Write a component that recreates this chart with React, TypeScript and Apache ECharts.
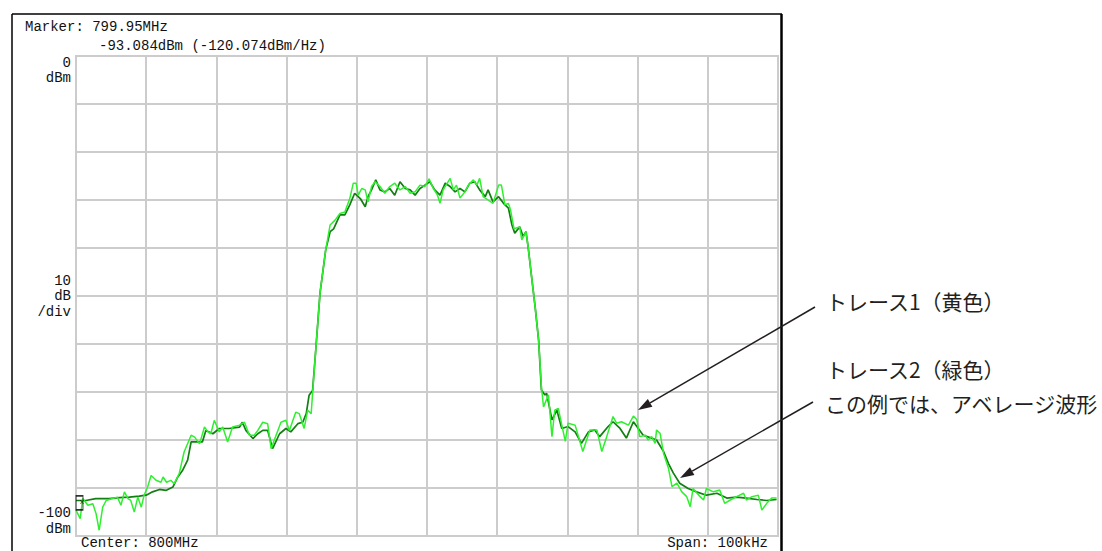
import React, { useEffect, useRef } from "react";
import * as echarts from "echarts";

// Frequency offsets from center (kHz) and levels (dBm)
const trace1Freq = [-50.0,-49.4,-49.05,-48.3,-47.6,-47.15,-46.7,-46.2,-45.7,-44.8,-44.1,-43.6,-43.1,-42.6,-42.2,-41.7,-41.2,-40.7,-40.3,-39.8,-39.3,-38.6,-37.9,-37.6,-37.1,-36.5,-36.0,-35.3,-34.6,-33.6,-33.1,-32.4,-31.7,-31.2,-30.8,-30.3,-29.6,-29.1,-28.4,-27.7,-26.7,-26.0,-25.3,-24.6,-24.1,-23.4,-22.7,-22.2,-21.5,-20.8,-20.1,-19.6,-18.7,-18.2,-17.5,-17.0,-16.5,-16.3,-15.85,-15.24,-14.43,-13.8,-13.1,-12.4,-11.7,-11.0,-10.5,-10.1,-9.8,-9.3,-8.8,-8.4,-7.9,-7.4,-6.7,-6.0,-5.3,-4.6,-3.85,-3.1,-2.4,-1.7,-1.0,-0.3,0.3,0.9,1.5,1.85,2.3,3.3,3.75,4.2,4.7,5.4,5.9,6.6,7.1,7.5,8.0,8.7,9.4,10.2,10.6,11.1,11.6,11.9,12.4,13.2,13.5,14.1,14.4,14.9,15.4,15.9,16.3,16.6,17.3,17.8,18.2,18.7,19.7,20.1,21.1,22.2,23.2,24.2,24.9,25.6,26.5,27.0,27.7,28.7,29.4,29.9,30.3,31.1,31.5,32.0,32.5,32.7,33.2,33.7,34.4,34.9,35.6,36.3,37.0,37.5,37.9,38.9,39.4,39.8,40.8,41.7,42.4,43.2,44.1,45.1,45.5,46.3,47.2,47.7,48.4,49.1,49.8];
const trace1Level = [-94.6,-96.4,-92.2,-93.6,-93.3,-95.3,-98.8,-94.0,-92.6,-92.2,-91.9,-93.6,-90.8,-92.2,-92.6,-95.0,-91.9,-94.0,-91.5,-89.8,-87.4,-88.4,-88.8,-87.7,-88.8,-88.4,-89.1,-87.0,-82.5,-79.0,-79.4,-80.8,-77.3,-78.3,-78.7,-75.9,-78.3,-77.3,-80.4,-77.3,-76.9,-76.3,-79.0,-79.0,-78.0,-76.3,-76.6,-81.8,-79.0,-76.3,-75.9,-78.0,-74.2,-74.5,-77.6,-73.8,-74.5,-70.3,-61.3,-49.4,-40.4,-35.2,-34.2,-32.8,-32.5,-29.7,-26.5,-26.5,-29.0,-27.6,-27.9,-30.4,-27.2,-26.2,-27.2,-28.6,-27.2,-26.5,-27.9,-27.2,-28.6,-28.3,-26.9,-27.2,-25.6,-27.6,-29.0,-30.7,-27.9,-25.5,-27.9,-26.9,-29.6,-28.3,-26.9,-25.8,-26.9,-25.5,-29.3,-30.0,-30.7,-26.9,-26.9,-31.0,-30.7,-32.1,-36.0,-35.6,-38.3,-36.6,-39.7,-46.0,-52.2,-59.2,-68.9,-73.1,-70.6,-79.3,-73.8,-73.4,-80.3,-76.5,-76.9,-82.4,-77.9,-77.9,-82.4,-79.3,-75.1,-76.5,-76.2,-76.9,-75.0,-75.8,-79.3,-79.0,-80.0,-79.3,-80.7,-77.9,-78.6,-82.8,-85.9,-89.7,-89.0,-90.8,-91.8,-93.9,-90.1,-91.8,-92.5,-90.1,-90.8,-90.4,-93.2,-92.5,-91.8,-91.1,-92.5,-91.8,-91.5,-94.6,-93.2,-92.1,-92.1];

const trace2Freq = [-50.0,-48.6,-47.2,-45.3,-43.8,-42.4,-41.0,-40.0,-39.1,-38.1,-37.2,-36.2,-35.5,-34.8,-34.1,-33.6,-32.9,-32.0,-31.5,-30.5,-29.6,-28.2,-26.7,-26.3,-25.8,-24.8,-24.1,-23.4,-22.7,-22.0,-21.0,-20.1,-19.4,-18.4,-17.7,-17.2,-16.8,-16.3,-15.85,-15.24,-14.43,-13.8,-13.3,-12.4,-11.7,-11.0,-10.3,-9.5,-8.8,-8.4,-7.9,-7.3,-6.7,-6.0,-5.3,-4.6,-3.85,-3.1,-2.4,-1.7,-1.0,-0.3,0.4,1.1,1.85,2.6,3.3,4.0,4.7,5.4,6.1,6.8,7.5,8.3,8.7,9.4,10.2,10.9,11.6,12.1,12.5,13.2,13.7,14.1,14.4,14.9,15.4,15.9,16.3,16.8,17.05,17.8,18.5,19.2,20.1,21.1,22.0,23.0,23.9,24.6,25.8,26.5,27.5,28.4,29.4,30.1,30.8,32.0,32.7,33.7,34.4,35.1,36.0,37.2,38.4,39.8,41.3,42.7,44.1,45.5,47.0,48.4,49.8];
const trace2Level = [-92.6,-92.6,-92.2,-92.2,-92.0,-91.9,-91.7,-91.5,-90.8,-90.3,-90.5,-89.8,-87.7,-86.3,-84.2,-80.4,-80.4,-80.4,-78.0,-78.7,-77.6,-77.6,-77.3,-76.3,-78.0,-79.7,-78.7,-78.0,-78.0,-81.8,-78.7,-77.6,-78.3,-76.6,-76.3,-74.5,-70.7,-69.7,-61.3,-49.4,-40.4,-36.6,-36.0,-33.1,-33.1,-31.0,-28.6,-29.7,-31.4,-29.3,-27.9,-25.8,-27.9,-28.3,-27.6,-29.0,-26.2,-27.6,-27.9,-29.0,-27.6,-26.9,-26.2,-27.9,-29.0,-26.5,-27.2,-28.3,-27.6,-28.3,-26.5,-26.2,-27.9,-29.3,-27.9,-30.4,-29.3,-30.7,-31.7,-35.2,-36.9,-35.6,-37.6,-36.6,-39.7,-46.0,-52.2,-59.2,-69.6,-70.6,-70.3,-75.8,-73.8,-77.6,-77.2,-78.3,-80.7,-78.3,-77.9,-79.3,-77.2,-76.2,-77.6,-79.6,-76.2,-77.6,-79.0,-79.6,-80.0,-82.4,-84.9,-86.9,-89.0,-90.1,-90.8,-91.5,-91.1,-92.1,-91.9,-92.1,-92.4,-92.6,-92.4];

const markerPoint = [-50, -93.084];

const headerTexts = ["Marker: 799.95MHz", "-93.084dBm (-120.074dBm/Hz)"];
const topLabel = ["0", "dBm"];
const midLabel = ["10", "dB", "/div"];
const bottomLabel = ["-100", "dBm"];
const footerLeft = "Center: 800MHz";
const footerRight = "Span: 100kHz";
const note1 = "トレース1（黄色）";
const note2a = "トレース2（緑色）";
const note2b = "この例では、アベレージ波形";

const MONO = "'Liberation Mono', 'Courier New', monospace";
const JP = "'Noto Sans CJK JP', sans-serif";
const INK = "#231f20";

function zip(xs: number[], ys: number[]) {
  return xs.map((x, i) => [x, ys[i]]);
}

function monoText(text: string, x: number, y: number, align = "left", size = 14) {
  return {
    type: "text",
    x,
    y,
    style: { text, fontSize: size, fontFamily: MONO, fill: "#111", align, verticalAlign: "middle" },
    z: 100,
  };
}

function arrow(x1: number, y1: number, x2: number, y2: number) {
  const dx = x2 - x1, dy = y2 - y1;
  const len = Math.sqrt(dx * dx + dy * dy);
  const ux = dx / len, uy = dy / len;
  const hl = 14, hw = 4.5;
  const bx = x2 - ux * hl, by = y2 - uy * hl;
  const px = -uy, py = ux;
  return [
    { type: "line", shape: { x1, y1, x2: bx, y2: by }, style: { stroke: INK, lineWidth: 1.5 }, z: 100 },
    {
      type: "polygon",
      shape: { points: [[x2, y2], [bx + px * hw, by + py * hw], [bx - px * hw, by - py * hw]] },
      style: { fill: INK },
      z: 100,
    },
  ];
}

export default function App() {
  const ref = useRef<HTMLDivElement>(null);
  useEffect(() => {
    if (!ref.current) return;
    const chart = echarts.init(ref.current, null, { renderer: "svg" });
    const jp = (text: string, x: number, y: number) => ({
      type: "text",
      x,
      y,
      style: { text, fontSize: 21, fontFamily: JP, fill: INK, align: "left", verticalAlign: "middle" },
      z: 100,
    });
    const graphic: any[] = [
      // outer frame
      { type: "line", shape: { x1: 12, y1: 14, x2: 782, y2: 14 }, style: { stroke: "#000", lineWidth: 1.5 }, z: 100 },
      { type: "line", shape: { x1: 12, y1: 14, x2: 12, y2: 560 }, style: { stroke: "#000", lineWidth: 1.5 }, z: 100 },
      { type: "line", shape: { x1: 781.5, y1: 14, x2: 781.5, y2: 560 }, style: { stroke: "#000", lineWidth: 2.5 }, z: 100 },
      monoText(headerTexts[0], 25, 27),
      monoText(headerTexts[1], 99, 46),
      monoText(topLabel[0], 71, 63, "right"),
      monoText(topLabel[1], 71, 78, "right"),
      monoText(midLabel[0], 71, 281, "right"),
      monoText(midLabel[1], 71, 296, "right"),
      monoText(midLabel[2], 71, 312, "right"),
      monoText(bottomLabel[0], 71, 513, "right"),
      monoText(bottomLabel[1], 71, 529, "right"),
      monoText(footerLeft, 81, 543),
      monoText(footerRight, 768, 543, "right"),
      jp(note1, 826, 301),
      jp(note2a, 826, 369),
      jp(note2b, 825, 403),
      ...arrow(815, 307, 638, 410),
      ...arrow(813, 402, 680, 478),
    ];
    chart.setOption({
      animation: false,
      backgroundColor: "#fff",
      grid: { left: 76, top: 56, width: 702, height: 480, show: true, borderColor: "#cccccc", borderWidth: 2, backgroundColor: "#fff" },
      xAxis: {
        type: "value",
        min: -50,
        max: 50,
        interval: 10,
        axisLabel: { show: false },
        axisTick: { show: false },
        axisLine: { show: false },
        splitLine: { show: true, lineStyle: { color: "#cccccc", width: 2 } },
      },
      yAxis: {
        type: "value",
        min: -100,
        max: 0,
        interval: 10,
        axisLabel: { show: false },
        axisTick: { show: false },
        axisLine: { show: false },
        splitLine: { show: true, lineStyle: { color: "#cccccc", width: 2 } },
      },
      series: [
        {
          name: "trace2",
          type: "line",
          data: zip(trace2Freq, trace2Level),
          showSymbol: false,
          lineStyle: { color: "#117f11", width: 1.7 },
          z: 3,
        },
        {
          name: "trace1",
          type: "line",
          data: zip(trace1Freq, trace1Level),
          showSymbol: false,
          lineStyle: { color: "#2ef02e", width: 1.5 },
          z: 4,
        },
        {
          name: "marker",
          type: "scatter",
          data: [markerPoint],
          symbol: "rect",
          symbolSize: [7, 14],
          symbolOffset: [3.5, 0],
          itemStyle: { color: "rgba(0,0,0,0)", borderColor: "#000", borderWidth: 1.2 },
          label: { show: true, formatter: "x", position: "inside", offset: [2.5, -1], fontSize: 8, color: "#000", fontFamily: MONO },
          z: 6,
        },
      ],
      graphic,
    });
    return () => chart.dispose();
  }, []);
  return <div ref={ref} style={{ position: "absolute", left: 0, top: 0, width: 1102, height: 551 }} />;
}
